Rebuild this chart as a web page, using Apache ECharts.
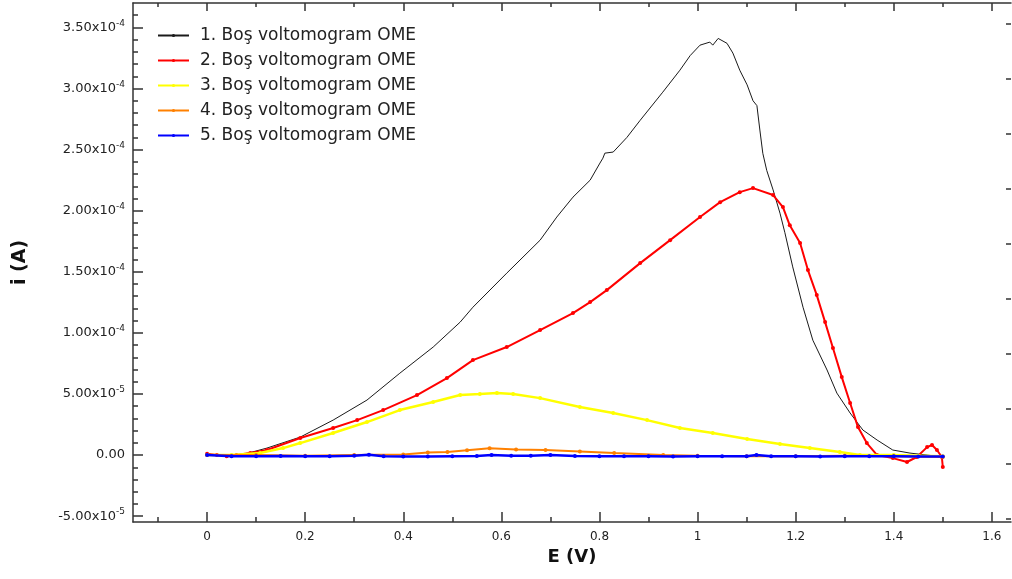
<!DOCTYPE html>
<html>
<head>
<meta charset="utf-8">
<script src="https://cdn.jsdelivr.net/npm/echarts@6/dist/echarts.min.js"></script>
<style>
  html, body { margin: 0; padding: 0; background: #fff; }
  #chart { width: 1012px; height: 579px; }
</style>
</head>
<body>
<div id="chart"></div>
<script>
// potential E (V) and current i (values in 1e-5 A)
var e1 = [0, 0.03, 0.06, 0.084, 0.122, 0.19, 0.257, 0.326, 0.393, 0.461, 0.516, 0.542, 0.611, 0.679, 0.713, 0.746, 0.781, 0.801, 0.807, 0.811, 0.828, 0.856, 0.883, 0.929, 0.964, 0.985, 1.005, 1.025, 1.031, 1.042, 1.06, 1.072, 1.086, 1.101, 1.113, 1.121, 1.127, 1.133, 1.141, 1.154, 1.168, 1.178, 1.194, 1.215, 1.235, 1.264, 1.284, 1.311, 1.337, 1.366, 1.398, 1.433, 1.468, 1.5];
var i1 = [0, 0, 0, 0.16, 0.57, 1.47, 2.86, 4.5, 6.7, 8.84, 10.88, 12.1, 14.89, 17.59, 19.48, 21.11, 22.5, 23.9, 24.3, 24.71, 24.8, 26.0, 27.4, 29.7, 31.5, 32.7, 33.55, 33.8, 33.55, 34.1, 33.7, 32.9, 31.5, 30.3, 29.0, 28.6, 26.6, 24.7, 23.3, 21.7, 19.8, 18.2, 15.4, 12.1, 9.4, 6.96, 5.07, 3.44, 2.05, 1.23, 0.41, 0.16, 0, -0.16];

var e2 = [0, 0.02, 0.04, 0.06, 0.088, 0.122, 0.19, 0.257, 0.306, 0.359, 0.428, 0.489, 0.542, 0.611, 0.679, 0.746, 0.781, 0.815, 0.883, 0.944, 1.005, 1.046, 1.086, 1.113, 1.154, 1.174, 1.188, 1.209, 1.225, 1.243, 1.26, 1.276, 1.294, 1.311, 1.327, 1.345, 1.366, 1.398, 1.427, 1.447, 1.468, 1.478, 1.488, 1.498, 1.5];
var i2 = [0.1, 0, -0.1, 0, 0.16, 0.41, 1.39, 2.21, 2.86, 3.68, 4.91, 6.3, 7.77, 8.84, 10.23, 11.62, 12.52, 13.5, 15.71, 17.59, 19.48, 20.7, 21.52, 21.85, 21.28, 20.3, 18.8, 17.35, 15.14, 13.09, 10.88, 8.76, 6.38, 4.26, 2.29, 0.98, 0, -0.25, -0.57, -0.16, 0.65, 0.82, 0.41, -0.16, -0.98];

var e3 = [0, 0.05, 0.108, 0.155, 0.19, 0.257, 0.326, 0.393, 0.461, 0.516, 0.556, 0.591, 0.624, 0.679, 0.76, 0.828, 0.897, 0.964, 1.031, 1.101, 1.168, 1.229, 1.29, 1.331, 1.4, 1.45, 1.5];
var i3 = [0, 0, 0.16, 0.57, 0.98, 1.8, 2.7, 3.68, 4.34, 4.91, 4.99, 5.07, 4.99, 4.66, 3.93, 3.44, 2.86, 2.21, 1.8, 1.31, 0.9, 0.57, 0.25, 0, 0, -0.05, -0.1];

var e4 = [0, 0.1, 0.2, 0.3, 0.4, 0.45, 0.49, 0.53, 0.576, 0.63, 0.69, 0.76, 0.83, 0.93, 1.0, 1.1, 1.2, 1.3, 1.4, 1.5];
var i4 = [0, 0, -0.05, 0, 0.05, 0.2, 0.25, 0.4, 0.55, 0.45, 0.41, 0.3, 0.16, 0, -0.05, -0.1, -0.1, -0.05, -0.1, -0.15];

var e5 = [0, 0.05, 0.1, 0.15, 0.2, 0.25, 0.3, 0.33, 0.36, 0.4, 0.45, 0.5, 0.55, 0.58, 0.62, 0.66, 0.7, 0.75, 0.8, 0.85, 0.9, 0.95, 1.0, 1.05, 1.1, 1.12, 1.15, 1.2, 1.25, 1.3, 1.35, 1.4, 1.45, 1.5];
var i5 = [0, -0.1, -0.1, -0.08, -0.1, -0.1, -0.05, 0.02, -0.1, -0.12, -0.12, -0.1, -0.08, 0, -0.05, -0.06, 0, -0.08, -0.1, -0.1, -0.1, -0.12, -0.1, -0.1, -0.1, 0, -0.1, -0.1, -0.12, -0.1, -0.1, -0.1, -0.12, -0.12];

var names = ['1. Boş voltomogram OME', '2. Boş voltomogram OME', '3. Boş voltomogram OME', '4. Boş voltomogram OME', '5. Boş voltomogram OME'];
var colors = ['#1a1a1a', '#ff0000', '#ffff00', '#ff8000', '#0000ff'];

var xTicks = [0, 0.2, 0.4, 0.6, 0.8, 1, 1.2, 1.4, 1.6];
var xMinor = [-0.1, 0.1, 0.3, 0.5, 0.7, 0.9, 1.1, 1.3, 1.5];
var yTicks = [-5e-5, 0, 5e-5, 1e-4, 1.5e-4, 2e-4, 2.5e-4, 3e-4, 3.5e-4];
var yMinor = [];
for (var k = -5; k <= 36; k++) { if (k % 5 !== 0) yMinor.push(k * 1e-5); }
// right frame has its own tick spacing (arbitrary units)
var rTicks = [];
for (var r = 0; r < 10; r++) rTicks.push(0.055 + r);

function pairs(xs, ys) {
  var out = [];
  for (var j = 0; j < xs.length; j++) out.push([xs[j], ys[j] * 1e-5]);
  return out;
}

function sciLabel(v) {
  if (Math.abs(v) < 1e-12) return '{m|0.00}';
  var ex = Math.floor(Math.log10(Math.abs(v)) + 1e-9);
  var m = (v / Math.pow(10, ex)).toFixed(2);
  return '{m|' + m + 'x10}{s|' + ex + '}';
}

var XMIN = -0.151, XMAX = 1.639, YMIN = -5.48e-5, YMAX = 3.70e-4;
var axisCol = '#333';
var font = 'DejaVu Sans';

var chart = echarts.init(document.getElementById('chart'));
var ser = [[e1, i1], [e2, i2], [e3, i3], [e4, i4], [e5, i5]];
var widths = [1, 2, 2.5, 2, 2.5];
var series = ser.map(function (s, n) {
  return {
    name: names[n],
    type: 'line',
    data: pairs(s[0], s[1]),
    xAxisIndex: 0,
    yAxisIndex: 0,
    showSymbol: n > 0,
    symbol: n > 0 ? 'circle' : 'none',
    symbolSize: 4,
    itemStyle: { color: colors[n] },
    lineStyle: { color: colors[n], width: widths[n] },
    animation: false,
    z: 2 + n
  };
});

function tickAxis(pos, len, vals, showLine, extra) {
  var a = {
    type: 'value', position: pos,
    axisLine: { show: showLine, onZero: false, lineStyle: { color: axisCol, width: 1.5 } },
    axisTick: { show: true, inside: true, length: len, customValues: vals, lineStyle: { color: axisCol, width: 1.5 } },
    axisLabel: { show: false },
    splitLine: { show: false }
  };
  for (var key in extra) a[key] = extra[key];
  return a;
}

var xr = { min: XMIN, max: XMAX };
var yr = { min: YMIN, max: YMAX };

var xMain = tickAxis('bottom', 10, xTicks, true, xr);
xMain.axisLabel = { customValues: xTicks, fontFamily: font, fontSize: 12, color: '#222', margin: 9 };
xMain.name = 'E (V)';
xMain.nameLocation = 'middle';
xMain.nameGap = 26;
xMain.nameTextStyle = { fontFamily: font, fontSize: 18, fontWeight: 'bold', color: '#111' };

var yMain = tickAxis('left', 10, yTicks, true, yr);
yMain.axisLabel = {
  customValues: yTicks, margin: 8, formatter: sciLabel,
  rich: {
    m: { fontFamily: font, fontSize: 13, color: '#222' },
    s: { fontFamily: font, fontSize: 9, color: '#222', padding: [0, 0, 8, 0] }
  }
};
yMain.name = 'i (A)';
yMain.nameLocation = 'middle';
yMain.nameGap = 103;
yMain.nameRotate = 90;
yMain.nameTextStyle = { fontFamily: font, fontSize: 19, fontWeight: 'bold', color: '#111' };

chart.setOption({
  backgroundColor: '#fff',
  animation: false,
  grid: { left: 133, right: 1, top: 3, bottom: 57, outerBoundsMode: 'none' },
  legend: {
    orient: 'vertical',
    left: 152,
    top: 22,
    itemWidth: 31,
    itemHeight: 4,
    itemGap: 8,
    data: names,
    textStyle: { fontFamily: font, fontSize: 17, color: '#222', lineHeight: 16, padding: [0, 0, 0, 6] }
  },
  xAxis: [
    xMain,
    tickAxis('bottom', 5, xMinor, false, xr),
    tickAxis('top', 8, xTicks, true, xr),
    tickAxis('top', 4, xMinor, false, xr)
  ],
  yAxis: [
    yMain,
    tickAxis('left', 5, yMinor, false, yr),
    tickAxis('right', 5, rTicks, false, { min: 0, max: 9.436 })
  ],
  series: series
});
</script>
</body>
</html>
